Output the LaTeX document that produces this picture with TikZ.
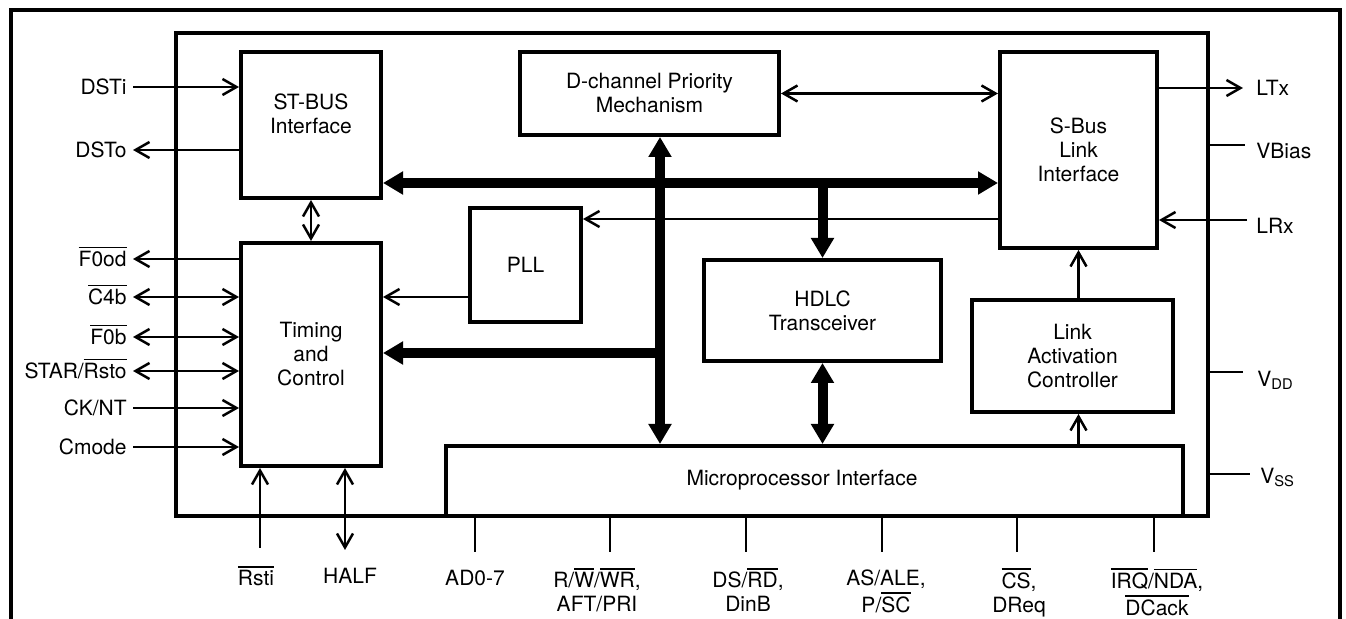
\documentclass[tikz,border=0pt]{standalone}
\usepackage{fontspec}
\setmainfont{TeX Gyre Heros}
\usetikzlibrary{arrows.meta,positioning,calc}
\newcommand{\ovl}[1]{\leavevmode\vbox{\hrule height 0.7pt\kern 1.4pt\hbox{#1}}}
\tikzset{
  block/.style={draw, line width=2pt, align=center, inner sep=0pt},
  sig/.style={line width=1.25pt, -{Straight Barb[length=7pt,width=8pt]}},
  bisig/.style={line width=1.25pt, {Straight Barb[length=7pt,width=8pt]}-{Straight Barb[length=7pt,width=8pt]}},
  wire/.style={line width=1.25pt},
  bus/.style={line width=5pt, -{Triangle[length=10pt,width=11pt]}},
  bibus/.style={line width=5pt, {Triangle[length=10pt,width=11pt]}-{Triangle[length=10pt,width=11pt]}},
  sidelabel/.style={inner sep=3pt, text height=9pt, text depth=1.5pt},
  bottomlabel/.style={inner sep=3pt}
}

\begin{document}
\begin{tikzpicture}[x=0.5pt, y=-0.5pt, font=\fontsize{10.5}{12}\selectfont]
\useasboundingbox (0,0) rectangle (1346,619);

% frames
\draw[line width=2.25pt] (11,640) -- (11,10) -- (1340,10) -- (1340,640);
\node[draw, line width=2.25pt, minimum width=516pt, minimum height=241.5pt] (chip) at (692,274.5) {};

% blocks
\node[block, minimum width=70pt, minimum height=73pt] (stbus) at (311,125) {};
\node[align=center] (stbus text) at (311,114) {ST-BUS\\Interface};
\node[block, minimum width=70pt, minimum height=111.5pt] (timing) at (311,354.5) {Timing\\and\\Control};
\node[block, minimum width=129.5pt, minimum height=41.5pt] (dchan) at (649.5,93.5) {D-channel Priority\\Mechanism};
\node[block, minimum width=78.5pt, minimum height=98pt] (sbus) at (1078.5,150) {S-Bus\\Link\\Interface};
\node[block, minimum width=55.5pt, minimum height=57pt] (pll) at (525.5,265) {PLL};
\node[block, minimum width=118.5pt, minimum height=50.5pt] (hdlc) at (822.5,310.5) {HDLC\\Transceiver};
\node[block, minimum width=100.5pt, minimum height=56pt] (lac) at (1072.5,356) {Link\\Activation\\Controller};
\node[block, minimum width=368.5pt, minimum height=35pt] (micro) at (814.5,481) {};
\node (micro text) at (802,480) {Microprocessor Interface};

% buses
\coordinate (busline) at (0,183);
\coordinate (lowbus) at (0,353);
\coordinate (vbus) at (660,0);
\draw[bibus] (stbus.east |- busline) -- (sbus.west |- busline);
\draw[bibus] (dchan.south -| vbus) -- (micro.north -| vbus);
\draw[bus] (vbus |- lowbus) -- (timing.east |- lowbus);
\draw[bus] (hdlc.north |- busline) -- (hdlc.north);
\draw[bibus] (hdlc.south) -- (micro.north -| hdlc.south);

% internal signals
\coordinate (pllin) at (0,219);
\coordinate (clk) at (0,297);
\draw[bisig] (dchan.east) -- (sbus.west |- dchan.east);
\draw[sig] (sbus.west |- pllin) -- (pll.east |- pllin);
\draw[sig] (pll.west |- clk) -- (timing.east |- clk);
\draw[bisig] (stbus.south) -- (timing.north);
\draw[sig] (sbus.south |- lac.north) -- (sbus.south);
\draw[sig] (micro.north -| sbus.south) -- (lac.south -| sbus.south);

% left pins
\node[sidelabel, anchor=east] (dsti) at (133,87) {DSTi};
\node[sidelabel, anchor=east] (dsto) at (133,150) {DSTo};
\draw[sig] (dsti.east) -- (stbus.west |- dsti.east);
\draw[sig] (stbus.west |- dsto.east) -- (dsto.east);
\node[sidelabel, anchor=east] (f0od) at (133,259) {\ovl{F0od}};
\draw[sig] (timing.west |- f0od.east) -- (f0od.east);
\foreach \py/\nm/\txt in {297/c4b/{\ovl{C4b}}, 337/f0b/{\ovl{F0b}}, 371/star/{STAR/\ovl{Rsto}}}{
  \node[sidelabel, anchor=east] (\nm) at (133,\py) {\txt};
  \draw[bisig] (\nm.east) -- (timing.west |- \nm.east);
}
\foreach \py/\nm/\txt in {408/cknt/{CK/NT}, 447/cmode/{Cmode}}{
  \node[sidelabel, anchor=east] (\nm) at (133,\py) {\txt};
  \draw[sig] (\nm.east) -- (timing.west |- \nm.east);
}

% right pins
\coordinate (ltx end) at (1243,88);
\coordinate (vbias end) at (1245,145);
\coordinate (lrx end) at (1247,220);
\coordinate (vdd end) at (1243,372);
\coordinate (vss end) at (1250,474);
\draw[sig] (sbus.east |- ltx end) -- (ltx end);
\draw[wire] (chip.east |- vbias end) -- (vbias end);
\draw[sig] (lrx end) -- (sbus.east |- lrx end);
\draw[wire] (chip.east |- vdd end) -- (vdd end);
\draw[wire] (chip.east |- vss end) -- (vss end);
\node[sidelabel, anchor=west] (ltx) at (1250,88) {LTx};
\node[sidelabel, anchor=west] (vbias) at (1250,151) {VBias};
\node[sidelabel, anchor=west] (lrx) at (1250,226) {LRx};
\node[sidelabel, anchor=west] (vdd) at (1251,379) {V\textsubscript{DD}};
\node[sidelabel, anchor=west] (vss) at (1254,476) {V\textsubscript{SS}};

% bottom pins
\coordinate (rsti end) at (260,548);
\coordinate (half end) at (345,550);
\draw[sig] (rsti end) -- (timing.south -| rsti end);
\draw[bisig] (timing.south -| half end) -- (half end);
\node[bottomlabel, anchor=north] (rsti) at (256,560) {\strut\ovl{Rsti}};
\node[bottomlabel, anchor=north] (half) at (350,560) {\strut HALF};
\foreach \px/\nm in {475/ad, 610/rw, 746/ds, 882/as, 1017/cs, 1154/irq}{
  \coordinate (\nm end) at (\px,552);
  \draw[wire] (micro.south -| \nm end) -- (\nm end);
}
\node[bottomlabel, anchor=north] (ad) at (475,562) {\strut AD0-7};
\node[bottomlabel, anchor=north] (rw) at (597,562) {\begin{tabular}{@{}c@{}}
R/\ovl{W}/\ovl{WR}, \\
AFT/PRI
\end{tabular}};
\node[bottomlabel, anchor=north] (ds) at (748,562) {\begin{tabular}{@{}c@{}}
DS/\ovl{RD}, \\
DinB
\end{tabular}};
\node[bottomlabel, anchor=north] (as) at (886,562) {\begin{tabular}{@{}c@{}}
AS/ALE, \\
P/\ovl{SC}
\end{tabular}};
\node[bottomlabel, anchor=north] (cs) at (1019,562) {\begin{tabular}{@{}c@{}}
\ovl{CS}, \\
DReq
\end{tabular}};
\node[bottomlabel, anchor=north] (irq) at (1157,562) {\begin{tabular}{@{}c@{}}
\ovl{IRQ}/\ovl{NDA}, \\
\ovl{DCack}
\end{tabular}};
\end{tikzpicture}
\end{document}
